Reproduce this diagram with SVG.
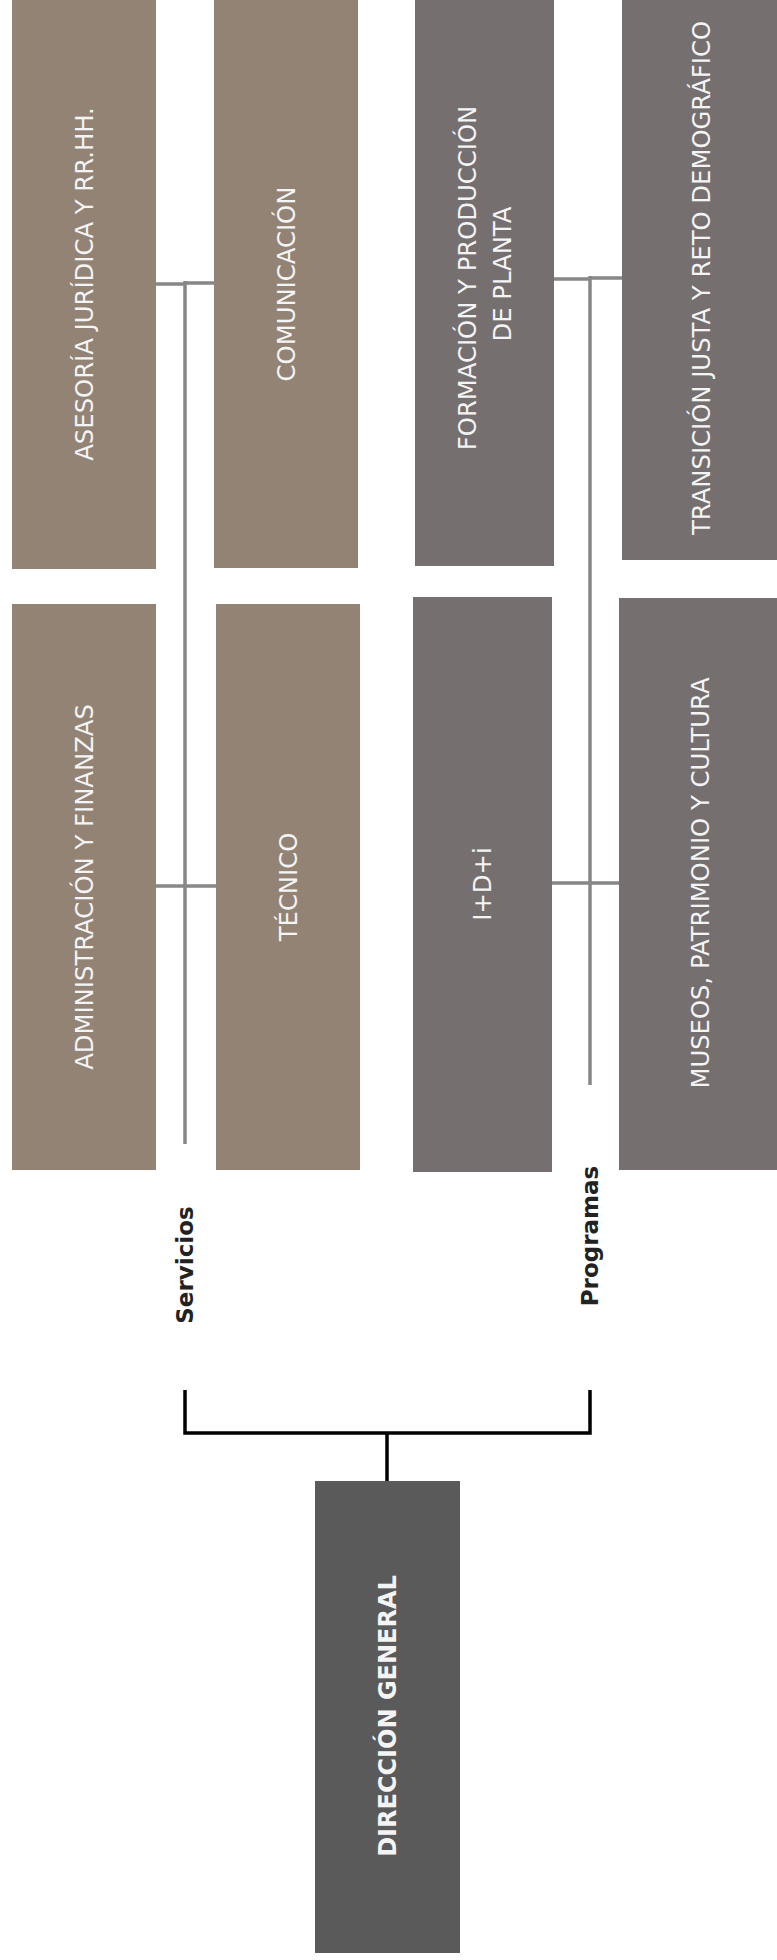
<svg xmlns="http://www.w3.org/2000/svg" width="777" height="1960" viewBox="0 0 777 1960">
<style>
.srv{fill:#938375}
.prg{fill:#75706f}
.dg{fill:#5a5a5a}
.lbl{font-family:"DejaVu Sans",Verdana,sans-serif;font-size:24.3px;fill:#f4f4f4;text-anchor:middle}
.bold{font-family:"DejaVu Sans",Verdana,sans-serif;font-weight:bold;text-anchor:middle}
.con{stroke:#878787;stroke-width:3.5;fill:none}
.br{stroke:#000;stroke-width:3.5;fill:none}
</style>
<rect width="777" height="1960" fill="#fff"/>
<g id="connectors">
<path class="con" d="M185 281V1144M156 284H185M185 283H214M156 886H216M590 276V1085M554 279H590M590 278H622M552 883H619"/>
<path class="br" d="M185 1390V1433H590V1390M387 1433V1481"/>
</g>
<g id="asesoria"><rect class="srv" x="12" y="-2" width="144" height="571"/><text class="lbl" transform="translate(93,284) rotate(-90)">ASESORÍA JURÍDICA Y RR.HH.</text></g>
<g id="comunicacion"><rect class="srv" x="214" y="-2" width="144" height="570"/><text class="lbl" transform="translate(295,284) rotate(-90)">COMUNICACIÓN</text></g>
<g id="administracion"><rect class="srv" x="12" y="604" width="144" height="566"/><text class="lbl" transform="translate(93,887) rotate(-90)">ADMINISTRACIÓN Y FINANZAS</text></g>
<g id="tecnico"><rect class="srv" x="216" y="604" width="144" height="566"/><text class="lbl" transform="translate(297,887) rotate(-90)">TÉCNICO</text></g>
<g id="formacion"><rect class="prg" x="415" y="-2" width="139" height="568"/><text class="lbl" transform="translate(476,278) rotate(-90)">FORMACIÓN Y PRODUCCIÓN</text><text class="lbl" transform="translate(511,274) rotate(-90)">DE PLANTA</text></g>
<g id="transicion"><rect class="prg" x="622" y="-2" width="160" height="562"/><text class="lbl" transform="translate(710,278) rotate(-90)">TRANSICIÓN JUSTA Y RETO DEMOGRÁFICO</text></g>
<g id="idi"><rect class="prg" x="413" y="597" width="139" height="575"/><text class="lbl" transform="translate(491,884) rotate(-90)">I+D+i</text></g>
<g id="museos"><rect class="prg" x="619" y="598" width="163" height="572"/><text class="lbl" transform="translate(709,883) rotate(-90)">MUSEOS, PATRIMONIO Y CULTURA</text></g>
<g id="servicios"><text class="bold" font-size="23" fill="#222" transform="translate(193,1265) rotate(-90)">Servicios</text></g>
<g id="programas"><text class="bold" font-size="23" fill="#222" transform="translate(598,1236) rotate(-90)">Programas</text></g>
<g id="direccion"><rect class="dg" x="315" y="1481" width="145" height="472"/><text class="bold" font-size="24" fill="#f4f4f4" transform="translate(396,1716) rotate(-90)">DIRECCIÓN GENERAL</text></g>
</svg>
